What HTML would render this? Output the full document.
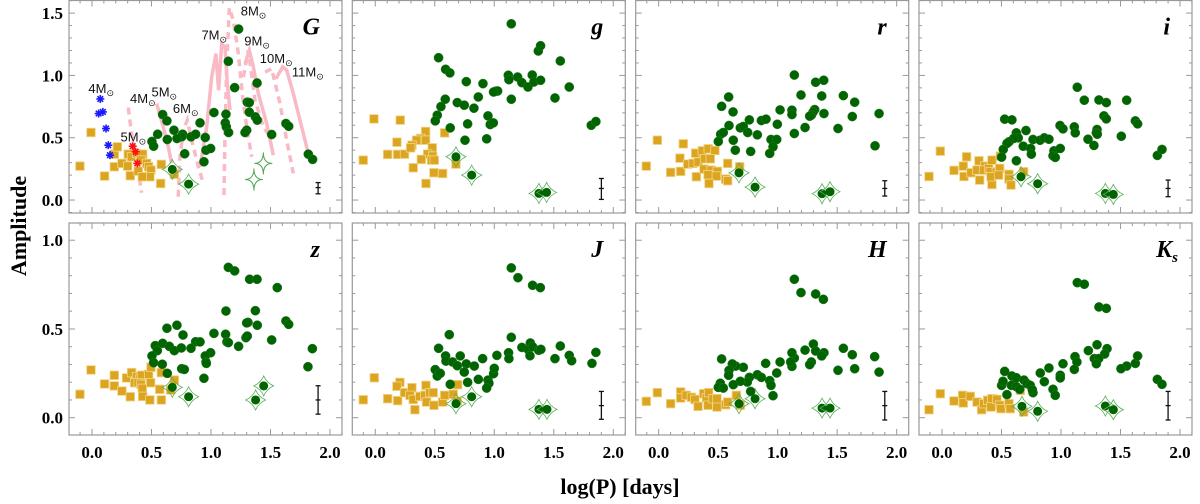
<!DOCTYPE html>
<html><head><meta charset="utf-8"><style>
html,body{margin:0;padding:0;background:#fff;}
svg{display:block;font-family:"Liberation Serif",serif;}
</style></head><body>
<svg id="chart" width="1200" height="504" viewBox="0 0 1200 504"></svg>
<script>
// ---- data (log P, amplitude) ----
const G_cepX=[1.232,1.146,1.199,1.387,1.025,1.126,1.120,1.129,1.148,1.305,1.322,1.322,1.373,1.389,1.300,1.286,1.510,1.630,1.653,1.818,1.854,0.594,0.630,0.552,0.504,0.518,0.689,0.762,0.754,0.714,0.633,0.832,0.871,0.908,0.952,0.958,0.997,0.779,0.941];
const G_cepY=[1.372,1.113,0.902,0.939,0.702,0.689,0.619,0.587,0.542,0.785,0.782,0.705,0.667,0.641,0.560,0.542,0.526,0.614,0.592,0.368,0.326,0.686,0.635,0.528,0.470,0.432,0.560,0.528,0.507,0.494,0.486,0.507,0.528,0.619,0.502,0.400,0.414,0.371,0.307];
const G_sqX=[-0.101,-0.008,0.106,0.188,0.188,0.213,0.252,0.300,0.322,0.305,0.333,0.375,0.403,0.426,0.412,0.389,0.459,0.476,0.496,0.487,0.423,0.583,0.577,0.692];
const G_sqY=[0.272,0.542,0.192,0.267,0.368,0.427,0.294,0.272,0.195,0.368,0.347,0.374,0.347,0.368,0.320,0.232,0.294,0.267,0.240,0.187,0.187,0.286,0.133,0.206];
const G_dX=[0.675,0.812];
const G_dY=[0.246,0.128];
const G_starX=[1.440,1.361];
const G_starY=[0.294,0.165];
const G_blueX=[0.070,0.056,0.092,0.118,0.137,0.151];
const G_blueY=[0.811,0.694,0.707,0.574,0.440,0.360];
const G_redX=[0.342,0.367,0.381];
const G_redY=[0.432,0.387,0.294];

const g_cepX=[1.143,0.532,0.591,0.627,1.370,1.389,1.555,0.765,0.905,1.118,1.123,1.196,1.232,1.283,1.319,1.333,1.389,1.630,1.011,1.028,0.994,0.588,0.866,1.143,1.510,0.689,0.748,0.552,0.829,0.521,0.504,0.947,0.776,0.966,0.992,0.630,0.754,0.936,1.815,1.854];
const g_cepY=[1.414,1.142,1.049,1.020,1.196,1.238,1.116,0.950,0.934,1.001,0.966,0.987,0.942,0.907,1.003,0.947,0.961,0.907,0.873,0.875,0.867,0.809,0.827,0.809,0.819,0.782,0.761,0.750,0.737,0.681,0.635,0.675,0.611,0.606,0.619,0.579,0.480,0.491,0.600,0.630];
const g_sqX=[-0.101,-0.011,0.210,0.182,0.104,0.188,0.246,0.319,0.423,0.381,0.347,0.308,0.297,0.423,0.479,0.440,0.482,0.387,0.473,0.496,0.426,0.493,0.566,0.583,0.678];
const g_sqY=[0.320,0.651,0.641,0.464,0.366,0.366,0.368,0.259,0.550,0.494,0.480,0.440,0.419,0.480,0.419,0.368,0.352,0.326,0.320,0.320,0.133,0.219,0.213,0.539,0.288];
const g_dX=[0.678,0.810,1.375,1.440];
const g_dY=[0.347,0.200,0.053,0.061];

const r_cepX=[1.140,1.319,1.387,1.196,1.370,1.552,1.647,0.588,0.529,0.625,1.020,1.120,1.120,1.311,1.297,1.283,1.269,1.389,1.627,1.852,0.762,0.863,0.902,0.997,0.591,0.686,0.711,0.748,1.230,1.507,0.521,0.543,0.829,0.501,0.627,0.944,0.992,1.140,0.961,0.644,0.773,0.933,1.818];
const r_cepY=[1.003,0.945,0.961,0.843,0.835,0.838,0.785,0.827,0.752,0.707,0.723,0.721,0.686,0.726,0.705,0.681,0.673,0.694,0.670,0.694,0.643,0.638,0.649,0.608,0.598,0.579,0.590,0.542,0.582,0.574,0.528,0.542,0.523,0.470,0.480,0.486,0.486,0.534,0.427,0.400,0.390,0.374,0.435];
const r_sqX=[-0.104,-0.011,0.207,0.179,0.101,0.185,0.317,0.311,0.367,0.417,0.473,0.244,0.289,0.333,0.387,0.434,0.381,0.440,0.493,0.415,0.485,0.423,0.563,0.580,0.580,0.681];
const r_sqY=[0.272,0.480,0.451,0.336,0.222,0.230,0.187,0.376,0.395,0.411,0.398,0.288,0.294,0.304,0.331,0.331,0.248,0.240,0.230,0.203,0.192,0.133,0.168,0.155,0.294,0.267];
const r_dX=[0.675,0.810,1.373,1.440];
const r_dY=[0.218,0.104,0.051,0.067];

const i_cepX=[1.137,1.196,1.319,1.381,1.552,0.527,0.588,1.361,1.381,1.625,1.644,0.706,0.625,0.992,1.017,1.112,1.120,1.303,1.297,1.305,0.641,0.602,0.563,0.546,0.765,0.824,0.860,0.899,1.227,1.277,1.507,0.683,0.745,0.515,0.501,0.751,0.941,0.994,0.933,0.952,0.625,1.810,1.849];
const i_cepY=[0.905,0.801,0.803,0.782,0.801,0.649,0.643,0.675,0.651,0.635,0.611,0.558,0.539,0.598,0.571,0.587,0.539,0.566,0.539,0.528,0.499,0.494,0.467,0.454,0.486,0.480,0.499,0.488,0.488,0.438,0.512,0.432,0.414,0.406,0.344,0.368,0.395,0.414,0.355,0.342,0.315,0.358,0.406];
const i_sqX=[-0.109,-0.014,0.207,0.179,0.101,0.185,0.244,0.311,0.294,0.361,0.350,0.392,0.420,0.406,0.457,0.485,0.490,0.317,0.420,0.412,0.476,0.563,0.563,0.580,0.686];
const i_sqY=[0.189,0.392,0.347,0.272,0.238,0.189,0.219,0.315,0.240,0.272,0.240,0.254,0.320,0.227,0.222,0.254,0.352,0.160,0.125,0.187,0.200,0.206,0.168,0.120,0.227];
const i_dX=[0.664,0.804,1.373,1.440];
const i_dY=[0.187,0.131,0.053,0.045];

const z_cepX=[1.146,1.199,1.325,1.387,1.557,1.126,1.373,1.311,1.300,1.389,1.630,1.653,0.630,0.714,1.025,1.123,0.871,0.908,0.532,0.549,0.594,0.650,0.692,0.751,0.765,0.832,0.997,0.952,1.134,1.146,1.232,1.294,1.305,1.510,0.504,0.518,0.591,0.633,0.754,0.776,0.958,0.961,0.941,1.815,1.852];
const z_cepY=[0.847,0.827,0.780,0.780,0.733,0.601,0.603,0.537,0.534,0.521,0.545,0.526,0.504,0.521,0.475,0.470,0.428,0.427,0.406,0.378,0.419,0.402,0.378,0.393,0.466,0.391,0.366,0.348,0.427,0.423,0.402,0.451,0.460,0.438,0.348,0.310,0.301,0.250,0.276,0.272,0.314,0.306,0.222,0.287,0.389];
const z_sqX=[-0.101,-0.008,0.106,0.188,0.188,0.252,0.322,0.291,0.333,0.375,0.403,0.417,0.476,0.496,0.359,0.389,0.412,0.493,0.423,0.426,0.487,0.583,0.569,0.583,0.661,0.692];
const z_sqY=[0.132,0.269,0.190,0.239,0.179,0.150,0.118,0.224,0.254,0.231,0.218,0.239,0.244,0.284,0.197,0.197,0.188,0.197,0.165,0.120,0.100,0.254,0.160,0.100,0.156,0.212];
const z_dX=[0.675,0.812,1.375,1.443];
const z_dY=[0.171,0.118,0.100,0.179];

const J_cepX=[1.143,1.199,1.322,1.387,0.622,1.143,0.532,0.591,0.594,0.650,0.689,0.714,0.765,0.748,0.832,0.902,1.022,1.120,1.123,1.232,1.303,1.286,1.322,1.300,1.373,1.392,1.555,1.630,1.650,1.510,1.821,1.854,0.504,0.521,0.546,0.630,0.776,0.866,0.947,0.955,0.936,0.994,1.000];
const J_cepY=[0.844,0.789,0.746,0.733,0.468,0.453,0.391,0.348,0.319,0.314,0.293,0.348,0.303,0.257,0.291,0.333,0.351,0.366,0.333,0.396,0.421,0.383,0.400,0.349,0.380,0.385,0.404,0.351,0.321,0.333,0.306,0.368,0.271,0.235,0.250,0.188,0.199,0.216,0.212,0.194,0.167,0.248,0.278];
const J_sqX=[-0.101,-0.008,0.207,0.182,0.104,0.188,0.246,0.308,0.291,0.333,0.319,0.375,0.417,0.426,0.431,0.459,0.487,0.493,0.566,0.583,0.655,0.692,0.689];
const J_sqY=[0.101,0.225,0.199,0.177,0.107,0.096,0.141,0.169,0.126,0.045,0.103,0.120,0.126,0.182,0.088,0.141,0.141,0.070,0.088,0.126,0.132,0.186,0.094];
const J_dX=[0.678,0.810,1.375,1.443];
const J_dY=[0.079,0.118,0.047,0.047];

const H_cepX=[1.140,1.196,1.319,1.384,1.552,1.627,1.815,1.852,1.647,1.507,1.300,1.230,1.319,1.389,1.370,1.140,1.120,1.120,1.109,1.283,1.269,1.020,0.992,0.899,0.829,0.863,0.711,0.647,0.619,0.591,0.588,0.529,0.762,0.745,0.686,0.627,0.518,0.501,0.543,0.773,0.933,0.944,0.961];
const H_cepY=[0.780,0.705,0.697,0.667,0.391,0.355,0.344,0.257,0.276,0.267,0.415,0.381,0.376,0.366,0.348,0.336,0.366,0.289,0.314,0.314,0.299,0.314,0.252,0.306,0.242,0.227,0.284,0.291,0.303,0.267,0.239,0.331,0.227,0.201,0.205,0.186,0.194,0.171,0.167,0.148,0.209,0.182,0.124];
const H_sqX=[-0.104,-0.011,0.101,0.185,0.185,0.232,0.275,0.305,0.331,0.378,0.401,0.420,0.415,0.457,0.490,0.490,0.563,0.580,0.653,0.686];
const H_sqY=[0.092,0.141,0.079,0.145,0.111,0.126,0.115,0.103,0.064,0.135,0.111,0.141,0.070,0.107,0.060,0.107,0.073,0.088,0.126,0.070];
const H_dX=[0.675,0.810,1.373,1.440];
const H_dY=[0.079,0.107,0.054,0.054];

const K_cepX=[1.137,1.196,1.319,1.381,1.303,1.230,1.387,1.367,1.280,1.317,1.297,1.118,1.134,1.112,1.017,0.994,0.994,0.899,0.826,0.860,1.625,1.644,1.552,1.504,1.810,1.849,0.527,0.588,0.625,0.501,0.513,0.689,0.714,0.742,0.765,0.759,0.583,0.625,0.653,0.546,0.933,0.952];
const K_cepY=[0.761,0.752,0.624,0.616,0.411,0.378,0.389,0.359,0.333,0.333,0.304,0.344,0.314,0.272,0.304,0.239,0.224,0.280,0.252,0.203,0.306,0.348,0.291,0.276,0.216,0.188,0.261,0.235,0.225,0.182,0.205,0.212,0.192,0.182,0.141,0.158,0.182,0.175,0.160,0.130,0.160,0.126];
const K_sqX=[-0.109,-0.014,0.101,0.174,0.179,0.238,0.294,0.333,0.350,0.384,0.420,0.412,0.462,0.485,0.496,0.563,0.574,0.658,0.686];
const K_sqY=[0.045,0.135,0.094,0.126,0.083,0.120,0.088,0.045,0.079,0.098,0.107,0.060,0.103,0.070,0.051,0.079,0.051,0.154,0.032];
const K_dX=[0.672,0.804,1.373,1.440];
const K_dY=[0.064,0.036,0.066,0.045];

// typical error bars [center, low, high]
const errBars=[[0.10,0.05,0.14],[0.093,0.005,0.173],[0.093,0.032,0.155],[0.093,0.027,0.160],[0.10,0.02,0.18],[0.068,-0.009,0.148],[0.068,-0.013,0.148],[0.068,-0.013,0.148]];
const bandNames=["G","g","r","i","z","J","H","Ks"];

// model tracks for panel G (log P, amplitude)
const trackSolid=[
 [[0.543,0.774],[0.599,0.587],[0.641,0.427],[0.669,0.294]],
 [[0.908,0.267],[0.964,0.587],[1.006,0.987],[1.042,1.174],[1.064,0.881],[1.090,1.254],[1.118,1.228],[1.137,0.934],[1.160,0.721]],
 [[1.286,1.094],[1.322,1.201],[1.356,1.068],[1.398,0.854],[1.468,0.614],[1.524,0.360]],
 [[1.546,0.974],[1.602,1.068],[1.636,1.041],[1.692,0.854],[1.762,0.587],[1.818,0.374]]
];
const trackDashed=[
 [[0.305,0.742],[0.333,0.534],[0.375,0.320],[0.417,0.059]],
 [[0.725,0.027],[0.739,0.347],[0.768,0.560],[0.801,0.641],[0.838,0.480],[0.894,0.267],[0.936,0.133]],
 [[1.109,0.040],[1.118,0.534],[1.132,1.068],[1.154,1.543],[1.188,1.441],[1.230,1.174],[1.266,0.827],[1.300,0.587],[1.342,0.347]],
 [[1.272,0.987],[1.314,1.201],[1.370,0.801],[1.440,0.587],[1.496,0.507]],
 [[1.454,1.027],[1.510,1.054],[1.580,0.774],[1.636,0.480],[1.692,0.214]]
];
const massLabels=["4","4","5","6","5","7","8","9","10","11"];
const massLabelX=[-0.03,0.32,0.50,0.68,0.24,0.92,1.25,1.28,1.41,1.68];
const massLabelY=[0.86,0.78,0.83,0.70,0.47,1.29,1.48,1.24,1.10,0.99];

const panels=[
 [G_cepX,G_cepY,G_sqX,G_sqY,G_dX,G_dY],[g_cepX,g_cepY,g_sqX,g_sqY,g_dX,g_dY],
 [r_cepX,r_cepY,r_sqX,r_sqY,r_dX,r_dY],[i_cepX,i_cepY,i_sqX,i_sqY,i_dX,i_dY],
 [z_cepX,z_cepY,z_sqX,z_sqY,z_dX,z_dY],[J_cepX,J_cepY,J_sqX,J_sqY,J_dX,J_dY],
 [H_cepX,H_cepY,H_sqX,H_sqY,H_dX,H_dY],[K_cepX,K_cepY,K_sqX,K_sqY,K_dX,K_dY]
];

const NS="http://www.w3.org/2000/svg";
const svg=document.getElementById("chart");
function mk(tag,attrs,parent){const e=document.createElementNS(NS,tag);for(const k in attrs)e.setAttribute(k,attrs[k]);(parent||svg).appendChild(e);return e;}

const colL=[69,352.3,635.7,919], rowT=[0.5,223], PW=273, PH=[212.5,212];
const X0=-0.193, X1=2.101;
const rowY=[[-0.104,1.601],[-0.0975,1.097]];

panels.forEach((p,idx)=>{
  const row=idx<4?0:1, col=idx%4;
  const L=colL[col], T=rowT[row], H=PH[row];
  const [ymin,ymax]=rowY[row];
  const sx=v=>L+(v-X0)/(X1-X0)*PW;
  const sy=v=>T+(ymax-v)/(ymax-ymin)*H;
  const g=mk("g",{});
  
  
  const cp=mk("clipPath",{id:"cp"+idx},g);
  mk("rect",{x:L,y:T,width:PW,height:H},cp);
  const ticks=mk("g",{stroke:"#999","stroke-width":1},g);
  
  
  for(let k=-1;k<=21;k++){const v=k/10;if(v<X0||v>X1)continue;const x=sx(v);const len=(k%5===0)?6:3;
    mk("line",{x1:x,y1:T+H,x2:x,y2:T+H-len},ticks);mk("line",{x1:x,y1:T,x2:x,y2:T+len},ticks);}
  for(let k=-1;k<=16;k++){const v=k/10;if(v<ymin||v>ymax)continue;const y=sy(v);const len=(k%5===0)?6:3;
    mk("line",{x1:L,y1:y,x2:L+len,y2:y},ticks);mk("line",{x1:L+PW,y1:y,x2:L+PW-len,y2:y},ticks);}
  if(col===0){
    const yl=row===0?[0,0.5,1.0,1.5]:[0,0.5,1.0];
    yl.forEach(v=>{const t=mk("text",{x:L-6,y:sy(v)+6,"text-anchor":"end","font-size":17,"font-weight":"bold"});t.textContent=v.toFixed(1);
      });
  }
  if(row===1){
    [0,0.5,1.0,1.5,2.0].forEach(v=>{const t=mk("text",{x:sx(v),y:458,"text-anchor":"middle","font-size":17,"font-weight":"bold"});t.textContent=v.toFixed(1);
      });
  }
  const inner=mk("g",{"clip-path":"url(#cp"+idx+")"},g);
  
  
  if(idx===0){
    trackDashed.forEach(tr=>{const pl=mk("polyline",{points:tr.map(q=>sx(q[0])+","+sy(q[1])).join(" "),fill:"none",stroke:"#f9b9c5","stroke-width":3.5,"stroke-dasharray":"7,5"},inner);
      });
    trackSolid.forEach(tr=>{const pl=mk("polyline",{points:tr.map(q=>sx(q[0])+","+sy(q[1])).join(" "),fill:"none",stroke:"#f9b9c5","stroke-width":3.5},inner);
      });
  }
  p[2].forEach((v,j)=>{const r=mk("rect",{x:sx(v)-4.3,y:sy(p[3][j])-4.3,width:8.6,height:8.6,fill:"#dba521",stroke:"#f3d68a","stroke-width":0.8},inner);
    });
  p[4].forEach((v,j)=>{const x=sx(v),y=sy(p[5][j]);
    const d=mk("path",{d:`M${x-10},${y} Q${x-3},${y-3} ${x},${y-10} Q${x+3},${y-3} ${x+10},${y} Q${x+3},${y+3} ${x},${y+10} Q${x-3},${y+3} ${x-10},${y} Z`,fill:"none",stroke:"#5aae5a","stroke-width":0.8},inner);
    
    const c=mk("circle",{cx:x,cy:y,r:4.5,fill:"#006400"},inner);
    });
  p[0].forEach((v,j)=>{const c=mk("circle",{cx:sx(v),cy:sy(p[1][j]),r:4.6,fill:"#006400",stroke:"#2a7a2a","stroke-width":0.5},inner);
    });
  if(idx===0){
    G_starX.forEach((v,j)=>{const x=sx(v),y=sy(G_starY[j]);
      const s=mk("path",{d:`M${x-9},${y} Q${x},${y} ${x},${y-11} Q${x},${y} ${x+9},${y} Q${x},${y} ${x},${y+11} Q${x},${y} ${x-9},${y} Z`,fill:"none",stroke:"#4fa64f","stroke-width":1},inner);
      });
    const ast=(xs,ys,col,name)=>xs.forEach((v,j)=>{const x=sx(v),y=sy(ys[j]);const a=mk("g",{stroke:col,"stroke-width":1.6},inner);
      
      for(let k=0;k<4;k++){const ang=k*Math.PI/4;mk("line",{x1:x-4*Math.cos(ang),y1:y-4*Math.sin(ang),x2:x+4*Math.cos(ang),y2:y+4*Math.sin(ang)},a);}});
    ast(G_blueX,G_blueY,"#1a1aff","blue-asterisk");
    ast(G_redX,G_redY,"#ff1010","red-asterisk");
    massLabels.forEach((m,j)=>{const t=mk("text",{x:sx(massLabelX[j]),y:sy(massLabelY[j]),"font-size":13,"font-family":"Liberation Sans, sans-serif",fill:"#111"},inner);
      
      t.appendChild(document.createTextNode(m+"M"));const ts=mk("tspan",{"font-size":9,dy:3},t);ts.textContent="⊙";});
  }
  const eb=errBars[idx], ex=sx(1.9);
  const e=mk("g",{stroke:"#111","stroke-width":1.3},g);
  
  mk("line",{x1:ex,y1:sy(eb[1]),x2:ex,y2:sy(eb[2])},e);
  mk("line",{x1:ex-2.5,y1:sy(eb[1]),x2:ex+2.5,y2:sy(eb[1])},e);
  mk("line",{x1:ex-2.5,y1:sy(eb[2]),x2:ex+2.5,y2:sy(eb[2])},e);
  mk("line",{x1:ex-2.5,y1:sy(eb[0]),x2:ex+2.5,y2:sy(eb[0])},e);
  const fr=mk("rect",{x:L,y:T,width:PW,height:H,fill:"none",stroke:"#999","stroke-width":1.2},g);
  
  const bl=mk("text",{x:L+PW-22,y:T+34,"text-anchor":"end","font-size":24,"font-weight":"bold","font-style":"italic"},g);
  
  if(bandNames[idx]==="Ks"){bl.setAttribute("x",L+PW-14);bl.appendChild(document.createTextNode("K"));const s=mk("tspan",{"font-size":15,dy:5},bl);s.textContent="s";}
  else bl.textContent=bandNames[idx];
});
const yt=mk("text",{x:0,y:0,transform:"translate(26,226) rotate(-90)","text-anchor":"middle","font-size":22,"font-weight":"bold"});
yt.textContent="Amplitude";


const xt=mk("text",{x:620,y:494,"text-anchor":"middle","font-size":22,"font-weight":"bold"});
xt.textContent="log(P) [days]";


</script>
</body></html>
